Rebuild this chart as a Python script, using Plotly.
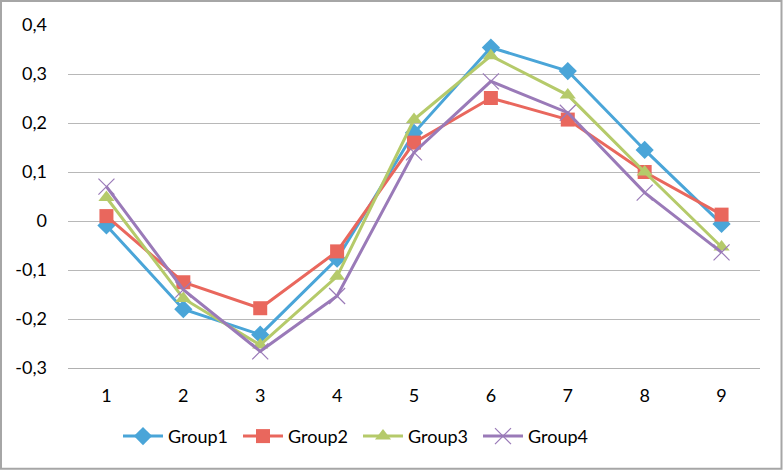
import plotly.graph_objects as go

categories = [1, 2, 3, 4, 5, 6, 7, 8, 9]
group1 = [-0.009, -0.180, -0.232, -0.077, 0.180, 0.354, 0.306, 0.145, -0.006]
group2 = [0.010, -0.125, -0.178, -0.062, 0.160, 0.251, 0.207, 0.100, 0.013]
group3 = [0.048, -0.158, -0.253, -0.113, 0.207, 0.337, 0.257, 0.100, -0.053]
group4 = [0.070, -0.140, -0.266, -0.153, 0.140, 0.285, 0.221, 0.058, -0.064]
names = ["Group1", "Group2", "Group3", "Group4"]
ytick_vals = [-0.3, -0.2, -0.1, 0, 0.1, 0.2, 0.3, 0.4]
ytick_text = ["-0,3", "-0,2", "-0,1", "0", "0,1", "0,2", "0,3", "0,4"]

colors = ["#4aa5d8", "#e9675d", "#b5ca6a", "#9a7ab8"]
symbols = ["diamond", "square", "triangle-up", "x-thin-open"]
sizes = [14, 14, 14, 16]

fig = go.Figure()
for name, vals, c, s, sz in zip(names, [group1, group2, group3, group4], colors, symbols, sizes):
    marker = dict(symbol=s, size=sz, color=c)
    if s == "x-thin-open":
        marker["line"] = dict(color=c, width=1.2)
    fig.add_trace(go.Scatter(x=categories, y=vals, name=name, mode="lines+markers",
                             line=dict(color=c, width=3), marker=marker))

L, R, T, B = 68, 23, 25, 102.5
W, H = 783, 471
pw, ph = W - L - R, H - T - B

fig.update_layout(
    width=W, height=H,
    margin=dict(l=L, r=R, t=T, b=B, pad=0),
    paper_bgcolor="white", plot_bgcolor="white",
    font=dict(family="Lato, Open Sans, sans-serif", size=18, color="#000000"),
    xaxis=dict(range=[0.5, 9.5], tickvals=categories, ticktext=[str(c) for c in categories],
               showgrid=False, showline=True, linecolor="#b0b0b0", linewidth=1,
               ticks="", zeroline=False, fixedrange=True, ticklabelstandoff=11),
    yaxis=dict(range=[-0.3, 0.4], tickvals=ytick_vals, ticktext=ytick_text,
               showgrid=True, gridcolor="#b8b8b8", gridwidth=1, zeroline=False,
               showline=False, ticks="", ticklabelstandoff=20, fixedrange=True),
    legend=dict(orientation="h", x=(118 - L) / pw, xanchor="left", y=(368.5 - 437) / ph,
                yanchor="middle", font=dict(size=18), itemwidth=40, tracegroupgap=0,
                entrywidth=65, entrywidthmode="pixels"),
    showlegend=True,
    shapes=[dict(type="rect", xref="paper", yref="paper",
                 x0=(1 - L) / pw, x1=(W - 1.5 - L) / pw,
                 y0=(H - T - B - (H - 1.5 - T)) / ph, y1=(H - T - B - (1 - T)) / ph,
                 line=dict(color="#a6a6a6", width=2), fillcolor="rgba(0,0,0,0)",
                 layer="above")],
)

fig.write_html("out.html", config={"displayModeBar": False},
               post_script="document.body.style.margin='0';document.body.style.overflow='hidden';")
